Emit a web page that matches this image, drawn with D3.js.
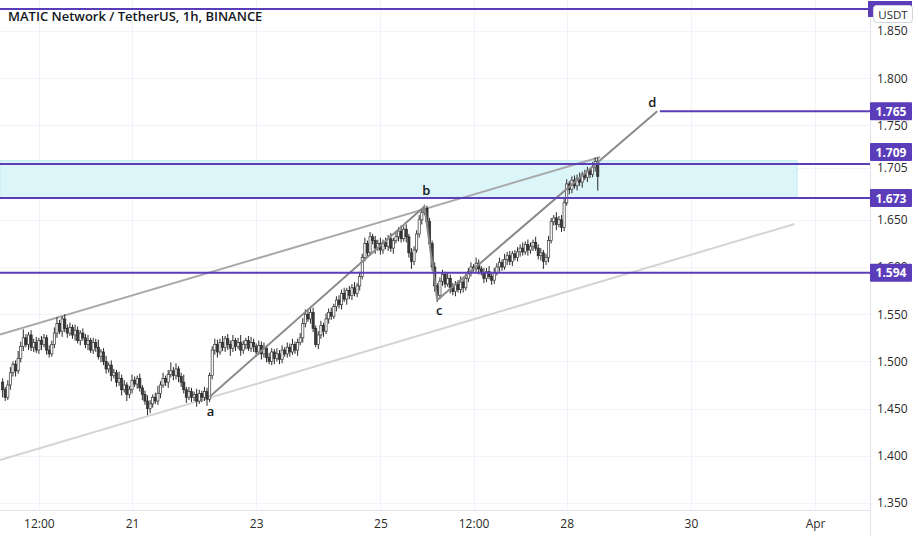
<!DOCTYPE html>
<html><head><meta charset="utf-8">
<script src="https://cdn.jsdelivr.net/npm/d3@7/dist/d3.min.js"></script>
<style>
html,body{margin:0;padding:0;background:#fff;}
svg{display:block;font-family:"Open Sans","Noto Sans",Roboto,sans-serif;}
</style></head><body>
<svg id="c" width="918" height="536"></svg>
<script>
// ---- DATA ----
const title = "MATIC Network / TetherUS, 1h, BINANCE";
const firstOpen = 1.478;
const startHourUTC = [2022, 2, 18, 22]; // first hourly candle: 18 Mar 22:00
const closes = [
 1.470,1.462,1.475,1.488,1.497,1.490,1.503,1.516,1.525,1.518,
 1.528,1.515,1.520,1.512,1.522,1.518,1.525,1.512,1.508,1.518,
 1.530,1.540,1.532,1.545,1.535,1.530,1.536,1.528,1.533,1.522,
 1.530,1.525,1.518,1.522,1.512,1.520,1.515,1.505,1.510,1.500,
 1.492,1.496,1.485,1.488,1.478,1.482,1.470,1.475,1.465,1.470,
 1.480,1.476,1.482,1.472,1.465,1.458,1.450,1.455,1.462,1.458,
 1.466,1.475,1.482,1.478,1.486,1.490,1.485,1.492,1.484,1.478,
 1.470,1.462,1.468,1.462,1.465,1.458,1.466,1.462,1.468,1.460,
 1.485,1.512,1.518,1.510,1.520,1.515,1.524,1.518,1.514,1.522,
 1.516,1.520,1.512,1.518,1.522,1.514,1.520,1.516,1.510,1.517,
 1.508,1.514,1.504,1.500,1.510,1.503,1.508,1.502,1.512,1.508,
 1.515,1.510,1.518,1.512,1.520,1.525,1.540,1.550,1.545,1.552,
 1.535,1.518,1.528,1.538,1.532,1.545,1.552,1.548,1.558,1.565,
 1.560,1.572,1.566,1.575,1.570,1.578,1.572,1.580,1.590,1.610,
 1.625,1.615,1.632,1.628,1.620,1.625,1.618,1.626,1.622,1.630,
 1.620,1.628,1.632,1.638,1.630,1.640,1.632,1.615,1.606,1.618,
 1.635,1.650,1.658,1.662,1.648,1.625,1.600,1.580,1.570,1.585,
 1.592,1.582,1.588,1.578,1.574,1.582,1.576,1.584,1.578,1.588,
 1.595,1.600,1.598,1.604,1.598,1.594,1.588,1.595,1.590,1.586,
 1.594,1.600,1.605,1.600,1.608,1.612,1.606,1.614,1.610,1.616,
 1.620,1.616,1.624,1.618,1.622,1.626,1.620,1.612,1.615,1.606,
 1.610,1.628,1.648,1.652,1.645,1.650,1.642,1.668,1.688,1.682,
 1.692,1.686,1.694,1.690,1.698,1.695,1.702,1.698,1.706,1.712,
 1.696
];
// upper / lower wick lengths, thousandths
const upWick = [
 4,3,5,6,3,4,8,5,9,4, 3,5,4,6,3,5,4,3,5,4, 6,7,4,3,5,4,5,3,6,4, 3,5,4,6,3,5,4,8,3,4,
 6,3,5,4,3,7,4,5,3,4, 6,4,3,5,3,4,6,4,3,5, 8,4,6,3,5,9,4,6,3,4, 8,3,5,4,3,6,4,3,5,4,
 3,4,6,5,4,7,3,5,4,6, 3,5,8,4,3,5,6,4,3,5, 4,6,3,5,4,3,6,4,5,3, 5,4,6,3,4,5,6,5,4,6,
 5,3,4,5,3,6,4,5,3,4, 5,4,6,3,5,4,6,3,5,4, 6,3,5,3,5,4,6,3,5,4, 6,3,5,4,6,3,5,3,5,4,
 4,5,3,4,3,4,3,5,3,4, 5,3,6,4,5,3,4,6,3,5, 4,5,3,6,4,3,5,4,6,3, 5,4,5,3,6,4,5,3,4,5,
 4,6,3,5,4,3,6,4,5,3, 4,5,4,3,6,4,5,4,5,3, 4,5,4,6,3,5,4,3,5,4, 4
];
const dnWick = [
 8,4,3,5,4,6,3,4,5,3, 6,4,5,3,4,6,3,5,4,3, 4,5,3,6,4,5,3,4,6,3, 5,3,4,6,3,4,5,3,6,4,
 5,4,6,3,5,4,6,3,7,4, 4,3,5,4,6,4,7,5,4,3, 4,5,3,4,6,3,5,4,6,5, 4,6,3,5,4,6,3,5,4,7,
 3,4,5,6,3,4,5,6,8,4, 5,3,6,4,5,3,4,6,5,3, 6,4,5,3,4,6,3,5,4,3, 4,5,3,4,6,3,5,4,3,5,
 4,3,5,4,6,3,5,4,3,5, 4,5,3,6,4,5,3,4,5,3, 4,5,3,4,6,3,5,4,3,5, 4,6,3,5,4,3,6,5,8,4,
 3,4,5,3,4,5,4,6,7,4, 5,4,3,6,4,5,3,4,5,3, 4,5,3,4,6,3,5,4,3,5, 4,3,5,4,3,6,4,5,3,4,
 5,4,3,6,4,5,3,4,5,8, 4,5,3,4,6,3,5,4,3,5, 4,3,5,4,6,3,5,4,3,5, 15
];
const yTickValues = [1.85,1.80,1.75,1.705,1.65,1.60,1.55,1.50,1.45,1.40,1.35];
const xTickDates = [[2022,2,19,12],[2022,2,21,0],[2022,2,23,0],[2022,2,25,0],[2022,2,26,12],[2022,2,28,0],[2022,2,30,0],[2022,3,1,0]];
const xTickLabels = ["12:00","21","23","25","12:00","28","30","Apr"];
// horizontal levels [price, start (UTC parts) or null for left edge, label]
const levelPrices = [1.8733, 1.765, 1.709, 1.673, 1.594];
const levelStarts = [null, [2022,2,29,12], null, null, null];
const levelLabels = ["", "1.765", "1.709", "1.673", "1.594"];
const levelLabelShift = [0, 0, -12, 0, 0];
// zone
const zoneTop = 1.7125, zoneBottom = 1.673, zoneEnd = [2022,2,31,17];
// channel lines [time, price]
const upperChannel = [[[2022,2,18,21],1.5285],[[2022,2,28,13],1.7165]];
const lowerChannel = [[[2022,2,18,21],1.3955],[[2022,2,31,16],1.6455]];
// wave a-b-c-d
const waveNames = ["a","b","c","d"];
const waveTimes = [[2022,2,22,6],[2022,2,25,17],[2022,2,25,22],[2022,2,29,11]];
const wavePrices = [1.4625, 1.6640, 1.5650, 1.7650];

// ---- CHART ----
const U = p => new Date(Date.UTC(p[0],p[1],p[2],p[3]||0));
const W = 918, H = 536, plotR = 870, plotB = 510;
const svg = d3.select("#c");
const x = d3.scaleUtc().domain([U([2022,2,21,0]), U([2022,3,1,0])]).range([132, 815.1]);
const y = d3.scaleLinear().domain([1.35, 1.85]).range([503, 31]);

// grid
const grid = svg.append("g");
grid.selectAll(".hg").data(yTickValues).join("line")
  .attr("x1",0).attr("x2",plotR).attr("y1",d=>Math.round(y(d))+0.5).attr("y2",d=>Math.round(y(d))+0.5)
  .attr("stroke","#f0f3fa");
grid.selectAll(".vg").data(xTickDates).join("line")
  .attr("y1",0).attr("y2",plotB).attr("x1",d=>Math.round(x(U(d)))+0.5).attr("x2",d=>Math.round(x(U(d)))+0.5)
  .attr("stroke","#f0f3fa");

// zone
svg.append("rect").attr("x",0).attr("y",y(zoneTop))
  .attr("width",x(U(zoneEnd))).attr("height",y(zoneBottom)-y(zoneTop))
  .attr("fill","#dcf5f9").attr("stroke","#bfe9f1").attr("stroke-width",1);

// channel lines
const ln = d3.line().x(d=>x(U(d[0]))).y(d=>y(d[1]));
svg.append("path").attr("d",ln(lowerChannel)).attr("fill","none").attr("stroke","#d4d4d4").attr("stroke-width",2);
svg.append("path").attr("d",ln(upperChannel)).attr("fill","none").attr("stroke","#a9a9a9").attr("stroke-width",2);

// candles
const t0 = U(startHourUTC).getTime();
const candles = closes.map((c,i)=>{
  const o = i===0 ? firstOpen : closes[i-1];
  const hi = Math.max(o,c) + (upWick[i]||3)/1000;
  const lo = Math.min(o,c) - (dnWick[i]||3)/1000;
  return {t:new Date(t0 + i*3600e3), o, h:hi, l:lo, c};
});
const cg = svg.append("g");
cg.selectAll(".wk").data(candles).join("line")
  .attr("x1",d=>x(d.t)).attr("x2",d=>x(d.t)).attr("y1",d=>y(d.h)).attr("y2",d=>y(d.l))
  .attr("stroke","#2a2a2a").attr("stroke-width",1);
cg.selectAll(".bd").data(candles).join("rect")
  .attr("x",d=>x(d.t)-1.1).attr("width",2.2)
  .attr("y",d=>y(Math.max(d.o,d.c))).attr("height",d=>Math.max(0.8,Math.abs(y(d.o)-y(d.c))))
  .attr("fill",d=>d.c>=d.o?"#ffffff":"#3a3a3a")
  .attr("stroke",d=>d.c>=d.o?"#3a3a3a":"#2a2a2a").attr("stroke-width",0.7);

// wave path
const wave = waveTimes.map((t,i)=>[t,wavePrices[i]]);
svg.append("path").attr("d",ln(wave)).attr("fill","none").attr("stroke","#8a8a8a").attr("stroke-width",2);
const wOff = [[1,19],[2,-12],[2,15],[-5,-4]];
svg.selectAll(".wl").data(wave).join("text")
  .attr("x",(d,i)=>x(U(d[0]))+wOff[i][0]).attr("y",(d,i)=>y(d[1])+wOff[i][1])
  .attr("text-anchor","middle").attr("font-size",13).attr("font-weight",600).attr("fill","#131722")
  .text((d,i)=>waveNames[i]);

// horizontal level lines
const purple = "#5b3cb9";
levelPrices.forEach((p,i)=>{
  const x1 = levelStarts[i] ? x(U(levelStarts[i])) : 0;
  svg.append("line").attr("x1",x1).attr("x2",plotR).attr("y1",y(p)).attr("y2",y(p))
    .attr("stroke",purple).attr("stroke-width",2);
});

// axes frame
svg.append("rect").attr("x",plotR).attr("y",0).attr("width",W-plotR).attr("height",H).attr("fill","#fff");
svg.append("rect").attr("x",0).attr("y",plotB).attr("width",W).attr("height",H-plotB).attr("fill","#fff");
svg.append("line").attr("x1",plotR+0.5).attr("x2",plotR+0.5).attr("y1",0).attr("y2",H).attr("stroke","#e0e3eb");
svg.append("line").attr("x1",0).attr("x2",plotR).attr("y1",plotB+0.5).attr("y2",plotB+0.5).attr("stroke","#e0e3eb");

// right axis
const ya = svg.append("g").attr("transform",`translate(${plotR},0)`)
  .call(d3.axisRight(y).tickValues(yTickValues).tickFormat(d3.format(".3f")).tickSize(0).tickPadding(7));
ya.select(".domain").remove();
ya.selectAll("text").attr("font-size",12).attr("fill","#2b2b2b").attr("font-family","'Open Sans','Noto Sans',sans-serif");

// bottom axis
const xa = svg.append("g").attr("transform",`translate(0,${plotB})`)
  .call(d3.axisBottom(x).tickValues(xTickDates.map(U)).tickFormat((d,i)=>xTickLabels[i]).tickSize(0).tickPadding(9));
xa.select(".domain").remove();
xa.selectAll("text").attr("font-size",12).attr("fill","#2b2b2b").attr("font-family","'Open Sans','Noto Sans',sans-serif");

// level labels
levelPrices.forEach((p,i)=>{
  if(!levelLabels[i]) return;
  const yy = y(p) + levelLabelShift[i];
  svg.append("rect").attr("x",plotR).attr("y",yy-9).attr("width",42).attr("height",18).attr("fill",purple).attr("rx",1);
  svg.append("text").attr("x",plotR+21).attr("y",yy+4.5).attr("text-anchor","middle")
    .attr("font-size",12).attr("font-weight",700).attr("fill","#fff").text(levelLabels[i]);
});
// top level label hidden behind currency tag
svg.append("rect").attr("x",plotR-2).attr("y",y(levelPrices[0])-8).attr("width",44).attr("height",16).attr("fill",purple);
svg.append("rect").attr("x",plotR+3.5).attr("y",5.5).attr("width",39).attr("height",17).attr("rx",3)
  .attr("fill","#fff").attr("stroke","#d1d4dc");
svg.append("text").attr("x",plotR+23).attr("y",18.5).attr("text-anchor","middle")
  .attr("font-size",11.5).attr("fill","#2b2b2b").text("USDT");

// title
svg.append("text").attr("x",8).attr("y",21).attr("font-size",13).attr("font-weight",600)
  .attr("fill","#131722").text(title);
</script></body></html>
